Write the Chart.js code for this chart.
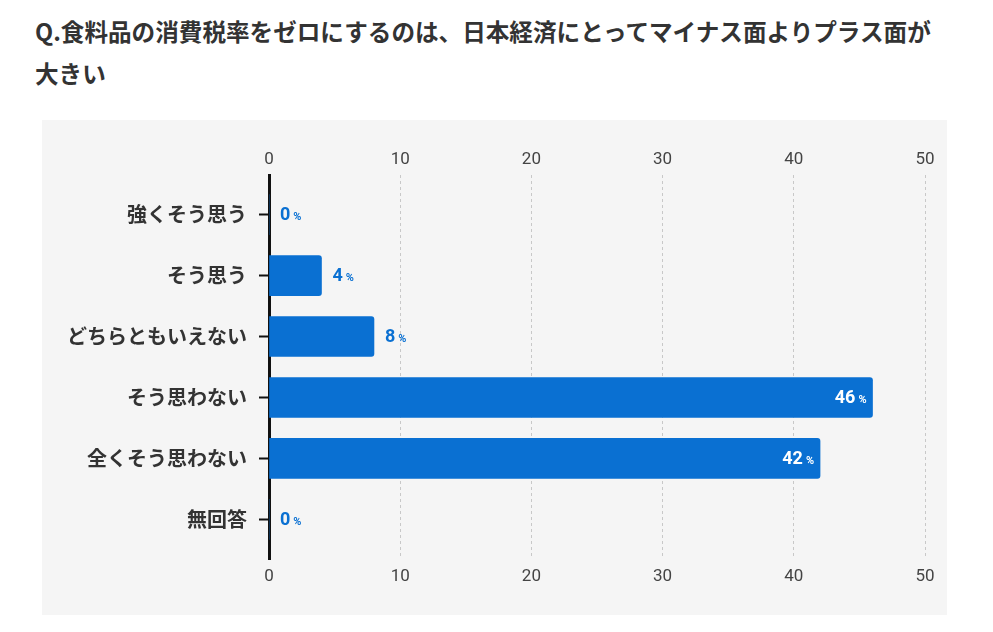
<!DOCTYPE html>
<html lang="ja">
<head>
<meta charset="utf-8">
<title>食料品の消費税率ゼロ</title>
<script src="https://cdn.jsdelivr.net/npm/chart.js@4/dist/chart.umd.min.js"></script>
<style>
  body { margin: 0; background: #fff; }
  .title {
    position: absolute; left: 35px; top: 10px; width: 940px;
    font-family: "Noto Sans CJK JP", sans-serif; font-weight: bold;
    font-size: 23.6px; line-height: 42px; color: #333;
  }
  .panel {
    position: absolute; left: 42px; top: 120px; width: 905px; height: 495px;
    background: #f5f5f5;
  }
</style>
</head>
<body>
<div class="title">Q.食料品の消費税率をゼロにするのは、日本経済にとってマイナス面よりプラス面が<br>大きい</div>
<div class="panel"><canvas id="myChart"></canvas></div>
<script>
  // answers and share (%)
  const answers = ['強くそう思う', 'そう思う', 'どちらともいえない', 'そう思わない', '全くそう思わない', '無回答'];
  const shares = [0, 4, 8, 46, 42, 0];
  const xTicks = [0, 10, 20, 30, 40, 50];

  const barBlue = '#0a70d2';

  // value labels at the end of each bar
  const valueLabels = {
    id: 'valueLabels',
    afterDatasetsDraw(chart) {
      const ctx = chart.ctx;
      const meta = chart.getDatasetMeta(0);
      meta.data.forEach((bar, i) => {
        const v = shares[i];
        const num = String(v);
        ctx.save();
        ctx.textBaseline = 'middle';
        ctx.font = 'bold 18px Roboto';
        const wNum = ctx.measureText(num).width;
        ctx.font = 'bold 11px Roboto';
        const wPct = ctx.measureText('%').width;
        const total = wNum + 3 + wPct;
        let x0, color;
        if (v >= 20) {
          x0 = bar.x - 6 - total;
          color = '#fff';
        } else {
          x0 = bar.x + 11;
          color = barBlue;
        }
        ctx.fillStyle = color;
        ctx.font = 'bold 18px Roboto';
        ctx.fillText(num, x0, bar.y + 1);
        ctx.font = 'bold 11px Roboto';
        ctx.fillText('%', x0 + wNum + 3, bar.y + 3);
        ctx.restore();
      });
    }
  };

  const ctx = document.getElementById('myChart');

  const config = {
    type: 'bar',
    data: {
      datasets: [
        {
          data: shares.map((v, i) => ({ x: v, y: i })),
          backgroundColor: barBlue,
          barThickness: 40,
          borderRadius: 3,
          borderSkipped: 'start'
        }
      ]
    },
    options: {
      indexAxis: 'y',
      responsive: true,
      maintainAspectRatio: false,
      animation: false,
      layout: { padding: { left: 0, right: 22, top: 0, bottom: 0 } },
      plugins: {
        legend: { display: false },
        tooltip: { enabled: false }
      },
      scales: {
        y: {
          type: 'linear',
          reverse: true,
          offset: false,
          min: -0.65,
          max: 5.65,
          afterBuildTicks: (scale) => { scale.ticks = answers.map((_, i) => ({ value: i })); },
          afterFit: (scale) => { scale.width = 227; },
          ticks: {
            callback: (value) => answers[value],
            color: '#333',
            font: { family: '"Noto Sans CJK JP"', size: 20, weight: 'bold' },
            padding: 12
          },
          grid: {
            offset: false,
            drawOnChartArea: false,
            tickLength: 10,
            tickColor: '#111',
            tickWidth: 2
          },
          border: { display: true, color: '#111', width: 3 }
        },
        xTop: {
          type: 'linear',
          position: 'top',
          axis: 'x',
          min: 0,
          max: 50,
          afterBuildTicks: (scale) => { scale.ticks = xTicks.map(v => ({ value: v })); },
          afterFit: (scale) => { scale.height = 55; },
          ticks: { color: '#444', font: { family: 'Roboto', size: 17 }, padding: 5 },
          grid: {
            drawTicks: false,
            color: (c) => c.tick && c.tick.value === 0 ? 'rgba(0,0,0,0)' : '#c8c8c8',
            lineWidth: 1
          },
          border: { display: false, dash: [3, 3] }
        },
        x: {
          type: 'linear',
          position: 'bottom',
          min: 0,
          max: 50,
          afterBuildTicks: (scale) => { scale.ticks = xTicks.map(v => ({ value: v })); },
          afterFit: (scale) => { scale.height = 56; },
          ticks: { color: '#444', font: { family: 'Roboto', size: 17 }, padding: 8 },
          grid: { display: false, drawTicks: false },
          border: { display: false }
        }
      }
    },
    plugins: [valueLabels]
  };

  const myChart = new Chart(ctx, config);
</script>
</body>
</html>
